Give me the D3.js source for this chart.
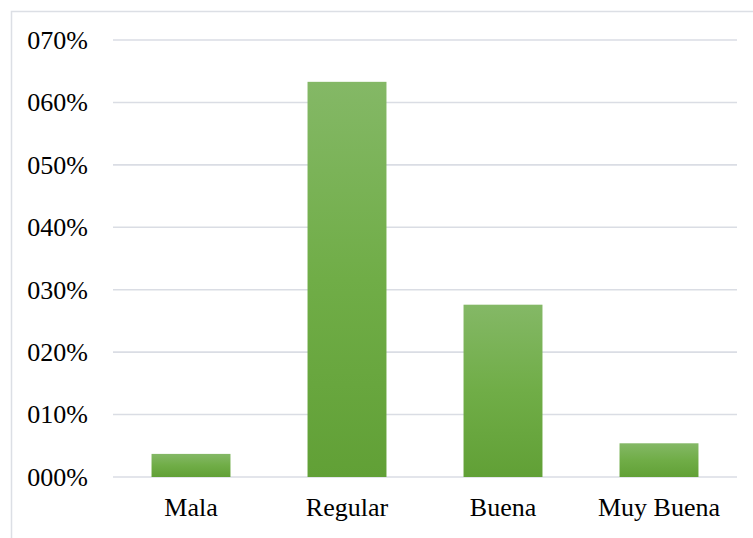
<!DOCTYPE html>
<html>
<head>
<meta charset="utf-8">
<script src="https://cdn.jsdelivr.net/npm/d3@7"></script>
<style>
  body { margin: 0; background: #fff; }
  text { font-family: "Liberation Serif", "Times New Roman", serif; fill: #000; }
</style>
</head>
<body>
<script>
// chart values
const categories = ["Mala", "Regular", "Buena", "Muy Buena"];
const values = [0.037, 0.633, 0.276, 0.054];
const yTicks = [0, 0.1, 0.2, 0.3, 0.4, 0.5, 0.6, 0.7];

const width = 753;
const height = 538;
const plot = {left: 113, right: 737, top: 40, bottom: 477};

const svg = d3.select("body").append("svg").attr("width", width).attr("height", height);

// gradient for the bars, light on top, darker at the bottom
const grad = svg.append("defs").append("linearGradient")
  .attr("id", "barGrad").attr("x1", 0).attr("y1", 0).attr("x2", 0).attr("y2", 1);
grad.append("stop").attr("offset", "0%").attr("stop-color", "#84b866");
grad.append("stop").attr("offset", "50%").attr("stop-color", "#70ad47");
grad.append("stop").attr("offset", "100%").attr("stop-color", "#61a036");

// chart border
svg.append("rect")
  .attr("x", 11.5).attr("y", 11.5)
  .attr("width", width).attr("height", height)
  .attr("fill", "none").attr("stroke", "#dcdfe5").attr("stroke-width", 1.5);

const xScale = d3.scaleBand().domain(categories).range([plot.left, plot.right])
  .paddingInner(0.494).paddingOuter(0.247);
const yScale = d3.scaleLinear().domain([0, 0.7]).range([plot.bottom, plot.top]);

// gridlines
svg.append("g").selectAll("line")
  .data(yTicks)
  .enter()
  .append("line")
  .attr("x1", plot.left).attr("x2", plot.right)
  .attr("y1", d => yScale(d)).attr("y2", d => yScale(d))
  .attr("stroke", "#dadde4").attr("stroke-width", 1.6);

// bars
svg.append("g").selectAll("rect")
  .data(values)
  .enter()
  .append("rect")
  .attr("x", (d, i) => xScale(categories[i]))
  .attr("y", d => yScale(d))
  .attr("width", xScale.bandwidth())
  .attr("height", d => yScale(0) - yScale(d))
  .attr("fill", "url(#barGrad)");

// y axis labels
const yAxis = d3.axisLeft(yScale).tickValues(yTicks).tickSize(0).tickPadding(0)
  .tickFormat(d => d3.format("03d")(Math.round(d * 100)) + "%");
const gy = svg.append("g").attr("transform", "translate(88,0)").call(yAxis);
gy.select(".domain").remove();
gy.selectAll("text").attr("font-size", 26).attr("font-family", "Liberation Serif").attr("fill", "#000");

// x axis labels
const xAxis = d3.axisBottom(xScale).tickSize(0).tickPadding(0);
const gx = svg.append("g").attr("transform", "translate(0," + (plot.bottom + 21) + ")").call(xAxis);
gx.select(".domain").remove();
gx.selectAll("text").attr("font-size", 26).attr("font-family", "Liberation Serif").attr("fill", "#000");
</script>
</body>
</html>
